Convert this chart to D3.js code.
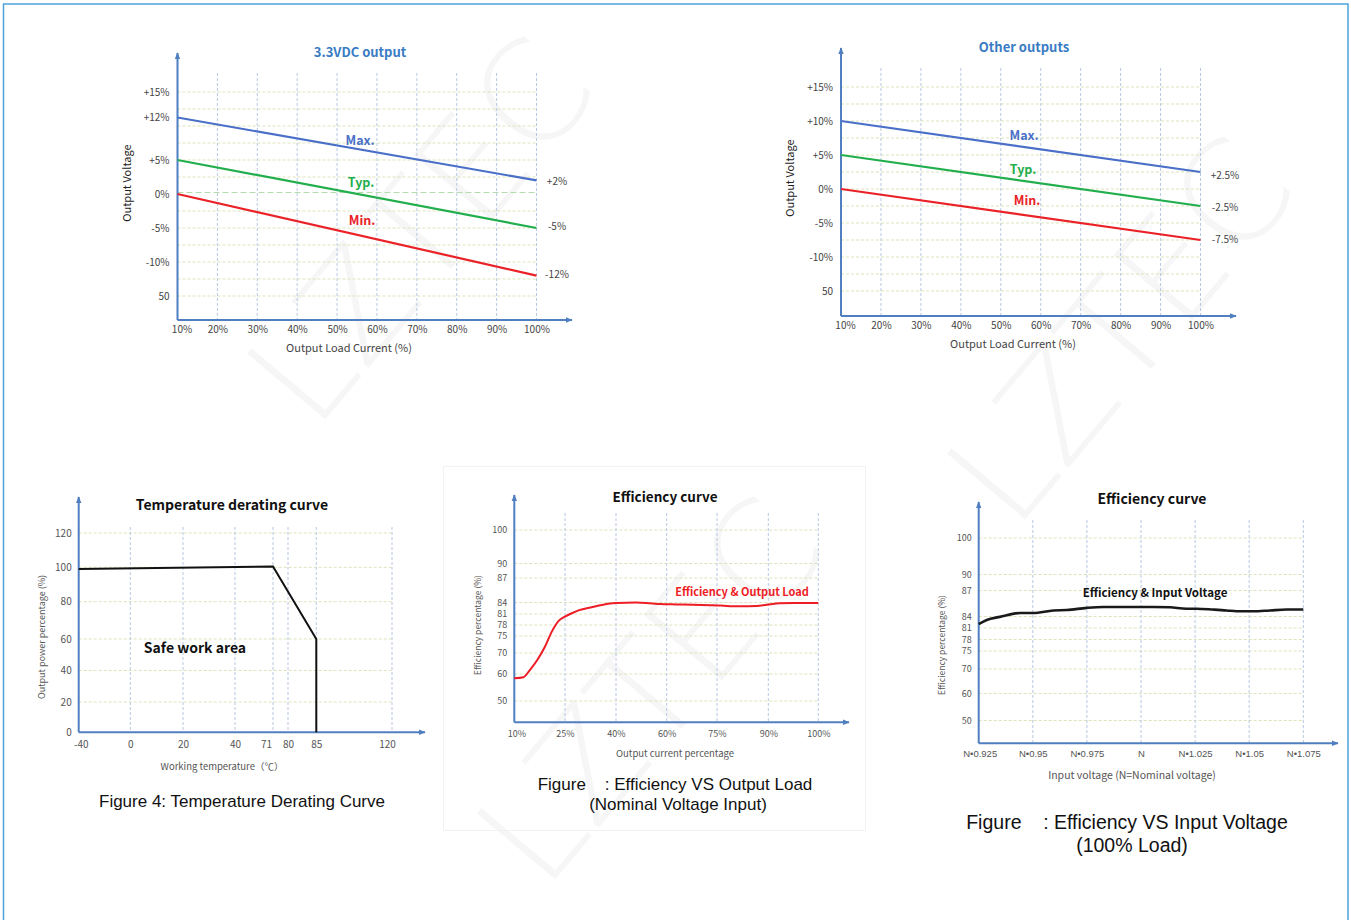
<!DOCTYPE html>
<html>
<head>
<meta charset="utf-8">
<script src="https://cdn.jsdelivr.net/npm/d3@7"></script>
<style>
  body { margin: 0; background: #fff; }
  svg { display: block; }
  text { font-family: "Noto Sans CJK SC", "Noto Sans", sans-serif; }
  .cap { font-family: "Liberation Sans", Arial, sans-serif; white-space: pre; }
</style>
</head>
<body>
<script>
// ---- data ----
const loadPct = [10, 20, 30, 40, 50, 60, 70, 80, 90, 100];
const loadEnds = [10, 100];

// 3.3VDC output
const out33Ticks = [15, 12, 5, 0, -5, -10, -15];
const out33TickLabels = ["+15%", "+12%", "+5%", "0%", "-5%", "-10%", "50"];
const out33Max = [12, 2];
const out33Typ = [5, -5];
const out33Min = [0, -12];
const out33EndLabels = ["+2%", "-5%", "-12%"];

// other outputs
const otherTicks = [15, 10, 5, 0, -5, -10, -15];
const otherTickLabels = ["+15%", "+10%", "+5%", "0%", "-5%", "-10%", "50"];
const otherMax = [10, 2.5];
const otherTyp = [5, -2.5];
const otherMin = [0, -7.5];
const otherEndLabels = ["+2.5%", "-2.5%", "-7.5%"];

// temperature derating
const tempTicks = [-40, 0, 20, 40, 71, 80, 85, 120];
const powerTicks = [0, 20, 40, 60, 80, 100, 120];
const deratingTemp = [-40, 71, 85, 85];
const deratingPower = [99, 100.5, 60, 0];

// efficiency vs output load
const effTicks = [50, 60, 70, 75, 78, 81, 84, 87, 90, 100];
const effLoadTicks = [10, 25, 40, 60, 75, 90, 100];
const effLoadX = [10, 12.7, 14.6, 16.8, 19.1, 21.1, 23.2, 25, 27, 29.2, 31.4, 34.4, 37.3, 40,
  47.9, 51.9, 57.4, 63, 67.9, 73.9, 77.8, 81.7, 86.6, 89.5, 92.3, 95, 100];
const effLoadY = [58.4, 58.8, 61.9, 66.7, 71.9, 76.2, 79.2, 80.3, 81.2, 82.0, 82.5, 83.1, 83.6, 83.9,
  84.0, 83.9, 83.6, 83.5, 83.4, 83.3, 83.1, 83.0, 83.1, 83.4, 83.8, 83.9, 83.9];

// efficiency vs input voltage
const vinTicks = [0.925, 0.95, 0.975, 1, 1.025, 1.05, 1.075];
const vinTickLabels = ["N•0.925", "N•0.95", "N•0.975", "N", "N•1.025", "N•1.05", "N•1.075"];
const vinX = [0.925, 0.9287, 0.9348, 0.9441, 0.9502, 0.9595, 0.9657, 0.975, 0.9826, 0.9903, 0.9995,
  1.0057, 1.0134, 1.021, 1.0257, 1.0334, 1.0396, 1.0442, 1.0519, 1.0596, 1.0673, 1.075];
const vinEff = [82.0, 83.1, 83.9, 84.4, 84.4, 84.7, 84.75, 85.0, 85.1, 85.1, 85.1,
  85.1, 85.06, 84.9, 84.9, 84.8, 84.7, 84.6, 84.6, 84.7, 84.8, 84.8];

// ---- styles ----
const axisBlue = "#4f7fc0";
const hGridColor = "#dde3b8";
const vGridColor = "#b9c8e2";

const svg = d3.select("body").append("svg").attr("width", 1351).attr("height", 920);

svg.append("defs").append("marker")
  .attr("id", "arrow").attr("viewBox", "0 0 10 10")
  .attr("refX", 9).attr("refY", 5)
  .attr("markerWidth", 7).attr("markerHeight", 7)
  .attr("markerUnits", "userSpaceOnUse")
  .attr("orient", "auto")
  .append("path").attr("d", "M0,1 L10,5 L0,9 z").attr("fill", axisBlue);

// watermark
const wm = svg.append("g").attr("fill", "#f6f6f6")
  .attr("font-weight", 200).attr("font-size", 140).attr("text-anchor", "middle");
[[420, 230], [1120, 330], [650, 690]].forEach(p => {
  wm.append("text").attr("transform", `translate(${p[0]},${p[1]}) rotate(-50)`)
    .style("font-family", "DejaVu Sans")
    .attr("dy", "0.35em").text("LZTEC");
});

// frame
svg.append("rect").attr("x", 3.5).attr("y", 4).attr("width", 1344.5).attr("height", 940)
  .attr("fill", "none").attr("stroke", "#4fa3dc").attr("stroke-width", 1.5);
svg.append("rect").attr("x", 443.5).attr("y", 466.5).attr("width", 422).attr("height", 364)
  .attr("fill", "none").attr("stroke", "#f2f2f2");

// ---- helpers ----
function axes(g, ox, oy, xEnd, yTop) {
  g.append("line").attr("x1", ox).attr("y1", oy).attr("x2", ox).attr("y2", yTop)
    .attr("stroke", axisBlue).attr("stroke-width", 2).attr("marker-end", "url(#arrow)");
  g.append("line").attr("x1", ox).attr("y1", oy).attr("x2", xEnd).attr("y2", oy)
    .attr("stroke", axisBlue).attr("stroke-width", 2).attr("marker-end", "url(#arrow)");
}
function vGrid(g, xs, y0, y1) {
  g.selectAll(null).data(xs).join("line")
    .attr("x1", d => d).attr("x2", d => d).attr("y1", y0).attr("y2", y1)
    .attr("stroke", vGridColor).attr("stroke-width", 1).attr("stroke-dasharray", "3,2");
}
function hGrid(g, ys, x0, x1) {
  g.selectAll(null).data(ys).join("line")
    .attr("x1", x0).attr("x2", x1).attr("y1", d => d).attr("y2", d => d)
    .attr("stroke", hGridColor).attr("stroke-width", 1).attr("stroke-dasharray", "3,2");
}
function leftLabels(g, y, ticks, fmt, ox, pad, size, color) {
  const a = g.append("g").attr("transform", `translate(${ox},0)`)
    .call(d3.axisLeft(y).tickValues(ticks).tickFormat(fmt).tickSize(0).tickPadding(pad));
  a.select(".domain").remove();
  a.selectAll("text").attr("font-size", size).attr("fill", color);
}
function bottomLabels(g, x, ticks, fmt, oy, pad, size, color) {
  const a = g.append("g").attr("transform", `translate(0,${oy})`)
    .call(d3.axisBottom(x).tickValues(ticks).tickFormat(fmt).tickSize(0).tickPadding(pad));
  a.select(".domain").remove();
  a.selectAll("text").attr("font-size", size).attr("fill", color);
  return a;
}
function txt(g, x, y, s, size, color, weight, rot) {
  const t = g.append("text").attr("x", x).attr("y", y).attr("text-anchor", "middle")
    .attr("dy", "0.35em").attr("font-size", size).attr("fill", color)
    .attr("font-weight", weight || "normal").text(s);
  if (rot) t.attr("transform", `rotate(${rot},${x},${y})`);
  return t;
}

// ---- chart 1 + 2: output voltage vs load ----
function voltageChart(o) {
  const g = svg.append("g");
  const x = d3.scaleLinear().domain([10, 100]).range([o.x0, o.x1]);
  const y = d3.scaleLinear().domain(o.yDom).range(o.yRng);
  const gridY = d3.scaleLinear().domain([-15, 15]).range([o.yRng[0], o.yRng[o.yRng.length - 1]]);
  hGrid(g, d3.range(-15, 15.1, 2.5).filter(v => !(o.greenZero && v === 0)).map(gridY), o.x0, o.x1);
  if (o.greenZero) {
    g.append("line").attr("x1", o.x0).attr("x2", o.x1).attr("y1", gridY(0) - 1.5).attr("y2", gridY(0) - 1.5)
      .attr("stroke", "#b5dcae").attr("stroke-width", 1).attr("stroke-dasharray", "6,3");
  }
  vGrid(g, loadPct.slice(1).map(x), o.gridTop, o.oy);
  axes(g, o.x0, o.oy, o.xEnd, o.yTop);
  leftLabels(g, y, o.ticks, (d, i) => o.tickLabels[i], o.x0, 8, 10, "#444");
  const xl = bottomLabels(g, x, loadPct, d => d + "%", o.oy, 6, 10, "#444");
  xl.select(".tick text").attr("dx", 4);
  const line = d3.line().x((d, i) => x(loadEnds[i])).y(d => y(d));
  const series = [[o.max, "#4a6fc8"], [o.typ, "#22ae4c"], [o.min, "#ea2228"]];
  series.forEach(s => {
    g.append("path").attr("d", line(s[0])).attr("fill", "none").attr("stroke", s[1]).attr("stroke-width", 2.2);
  });
  series.forEach((s, i) => {
    txt(g, o.endX, y(s[0][1]) + o.endDy[i], o.endLabels[i], 10, "#444");
    txt(g, o.nameX[i], o.nameY[i], ["Max.", "Typ.", "Min."][i], 12.5, s[1], "bold");
  });
  txt(g, o.titleX, o.titleY, o.title, 13, "#3a7cc4", "bold");
  txt(g, o.yTitleX, o.yTitleY, "Output Voltage", 11, "#222", "normal", -90);
  txt(g, o.xTitleX, o.xTitleY, "Output Load Current (%)", 11, "#444");
}

voltageChart({
  x0: 177.5, x1: 536.5, oy: 320, xEnd: 572, yTop: 53, gridTop: 73, greenZero: true,
  yDom: [-15, -10, -5, 0, 5, 12, 15], yRng: [296, 262, 228, 194, 160, 117.5, 92],
  ticks: out33Ticks, tickLabels: out33TickLabels,
  max: out33Max, typ: out33Typ, min: out33Min, endLabels: out33EndLabels,
  endX: 557, endDy: [1, -2, -1],
  nameX: [360, 361, 362], nameY: [141, 183, 221],
  title: "3.3VDC output", titleX: 360, titleY: 52,
  yTitleX: 127, yTitleY: 183, xTitleX: 349, xTitleY: 348
});

voltageChart({
  x0: 841, x1: 1200.5, oy: 316, xEnd: 1236, yTop: 48, gridTop: 68, greenZero: false,
  yDom: [-15, 15], yRng: [291, 87],
  ticks: otherTicks, tickLabels: otherTickLabels,
  max: otherMax, typ: otherTyp, min: otherMin, endLabels: otherEndLabels,
  endX: 1225, endDy: [3, 1, -1],
  nameX: [1024, 1023, 1027], nameY: [136, 170, 201],
  title: "Other outputs", titleX: 1024, titleY: 47,
  yTitleX: 790, yTitleY: 178, xTitleX: 1013, xTitleY: 344
});

// ---- chart 3: temperature derating ----
{
  const g = svg.append("g");
  const x = d3.scaleLinear().domain(tempTicks).range([78.7, 130.3, 183, 235, 273, 288, 316.3, 392]);
  const y = d3.scaleLinear().domain(powerTicks).range([732.3, 702, 670.5, 639, 601.7, 567.3, 533]);
  hGrid(g, powerTicks.slice(1).map(y), 78.7, 392);
  vGrid(g, tempTicks.slice(1).map(x), 527, 732.3);
  axes(g, 78.7, 732.3, 425, 497);
  leftLabels(g, y, powerTicks, d => d, 78.7, 7, 10, "#555");
  const xl = bottomLabels(g, x, tempTicks, d => d, 732.3, 9, 10, "#555");
  xl.selectAll(".tick text").filter(d => d === 71).attr("dx", -7);
  xl.selectAll(".tick text").filter(d => d === 120).attr("dx", -5);
  xl.selectAll(".tick text").filter(d => d === -40).attr("dx", 2);
  const line = d3.line().x((d, i) => x(deratingTemp[i])).y(d => y(d));
  g.append("path").attr("d", line(deratingPower)).attr("fill", "none")
    .attr("stroke", "#111").attr("stroke-width", 2);
  txt(g, 232, 505, "Temperature derating curve", 14, "#111", "bold");
  txt(g, 195, 648, "Safe work area", 14, "#111", "bold");
  txt(g, 42, 637, "Output power percentage (%)", 9, "#555", "normal", -90);
  txt(g, 222, 767, "Working temperature（℃）", 9.5, "#555");
  txt(g, 242, 801, "Figure 4: Temperature Derating Curve", 17, "#111").attr("class", "cap");
}

// ---- chart 4: efficiency vs output load ----
{
  const g = svg.append("g");
  const x = d3.scaleLinear().domain(effLoadTicks).range([514.3, 565, 616, 666.7, 717, 768.3, 818.3]);
  const y = d3.scaleLinear().domain(effTicks).range([701, 674, 653, 636, 625, 614, 602.5, 578, 563.5, 530]);
  hGrid(g, effTicks.map(y), 514.3, 818.3);
  vGrid(g, effLoadTicks.slice(1).map(x), 513, 722.3);
  axes(g, 514.3, 722.3, 849, 495);
  leftLabels(g, y, effTicks, d => d, 514.3, 7, 9, "#555");
  const xl = bottomLabels(g, x, effLoadTicks, d => d + "%", 722.3, 8, 9, "#555");
  xl.select(".tick text").attr("dx", 2);
  const line = d3.line().x((d, i) => x(effLoadX[i])).y(d => y(d)).curve(d3.curveMonotoneX);
  g.append("path").attr("d", line(effLoadY)).attr("fill", "none")
    .attr("stroke", "#ee1c24").attr("stroke-width", 2);
  txt(g, 665, 497, "Efficiency curve", 13.5, "#111", "bold");
  txt(g, 742, 592, "Efficiency & Output Load", 11, "#ee1c24", "bold");
  txt(g, 478, 625, "Efficiency percentage (%)", 8.5, "#555", "normal", -90);
  txt(g, 675, 754, "Output current percentage", 9.5, "#555");
  txt(g, 675, 784, "Figure    : Efficiency VS Output Load", 17, "#111").attr("class", "cap");
  txt(g, 678, 804, "(Nominal Voltage Input)", 17, "#111").attr("class", "cap");
}

// ---- chart 5: efficiency vs input voltage ----
{
  const g = svg.append("g");
  const x = d3.scaleLinear().domain([0.925, 1.075]).range([978.7, 1303.3]);
  const y = d3.scaleLinear().domain(effTicks).range([720.5, 693.5, 669, 651, 639.5, 628, 616.5, 590.5, 574.5, 538]);
  hGrid(g, effTicks.map(y), 978.7, 1303.3);
  vGrid(g, vinTicks.slice(1).map(x), 520, 743.3);
  axes(g, 978.7, 743.3, 1338, 502);
  leftLabels(g, y, effTicks, d => d, 978.7, 7, 9, "#555");
  const xl = bottomLabels(g, x, vinTicks, (d, i) => vinTickLabels[i], 743.3, 7, 9.5, "#555");
  xl.selectAll("text").style("font-family", "'Liberation Sans', Arial, sans-serif");
  xl.select(".tick text").attr("dx", 1);
  const line = d3.line().x((d, i) => x(vinX[i])).y(d => y(d)).curve(d3.curveMonotoneX);
  g.append("path").attr("d", line(vinEff)).attr("fill", "none")
    .attr("stroke", "#1a1a1a").attr("stroke-width", 2.6);
  txt(g, 1152, 499, "Efficiency curve", 14, "#111", "bold");
  txt(g, 1155, 593, "Efficiency & Input Voltage", 11.5, "#111", "bold");
  txt(g, 942, 645, "Efficiency percentage (%)", 8.5, "#555", "normal", -90);
  txt(g, 1132, 775, "Input voltage (N=Nominal voltage)", 10.5, "#555");
  txt(g, 1127, 822, "Figure    : Efficiency VS Input Voltage", 19.5, "#111").attr("class", "cap");
  txt(g, 1132, 845, "(100% Load)", 19.5, "#111").attr("class", "cap");
}
</script>
</body>
</html>
